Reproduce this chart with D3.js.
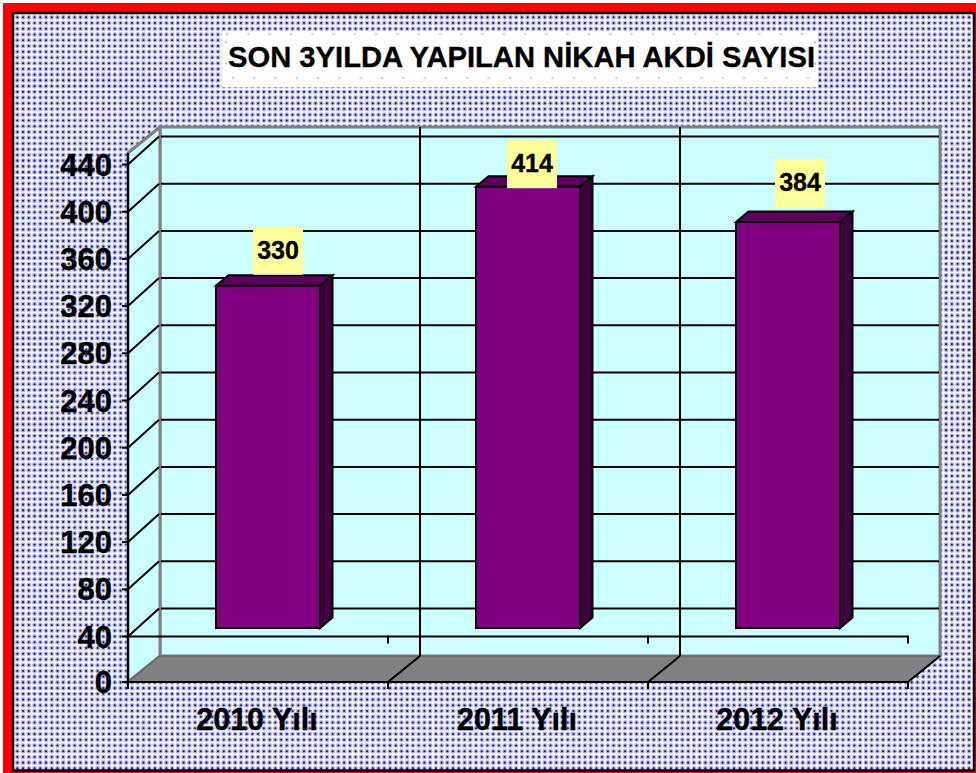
<!DOCTYPE html>
<html><head><meta charset="utf-8">
<style>html,body{margin:0;padding:0;background:#fff}svg{display:block}text{font-family:"Liberation Sans",Arial,sans-serif;font-weight:bold;fill:#000;stroke:#000;stroke-width:.35}</style>
<script src="https://cdnjs.cloudflare.com/ajax/libs/d3/7.8.5/d3.min.js"></script>
</head><body><svg id="c" width="976" height="773"></svg>
<script>
const categories = ["2010 Yılı","2011 Yılı","2012 Yılı"];
const values = [330,414,384];
const yTicks = [0,40,80,120,160,200,240,280,320,360,400,440];
const chartTitle = "SON 3YILDA YAPILAN NİKAH AKDİ SAYISI";
const axisCross = 40;

const svg = d3.select("#c");
const defs = svg.append("defs");
// textured background: tile of dots with a pale seam along its edges
const tile = 86, nDots = 15, step = tile/nDots;
const p = defs.append("pattern").attr("id","dots").attr("patternUnits","userSpaceOnUse")
  .attr("x",3).attr("y",3).attr("width",tile).attr("height",tile);
p.append("rect").attr("width",tile).attr("height",tile).attr("fill","#f3f3fa");
d3.range(nDots).forEach(i=>d3.range(nDots).forEach(j=>{
  const cx=(i+.5)*step, cy=(j+.5)*step;
  p.append("circle").attr("cx",cx).attr("cy",cy).attr("r",2.3).attr("fill","#b0b0dc");
  p.append("circle").attr("cx",cx).attr("cy",cy).attr("r",1.05).attr("fill","#14148a");
}));
p.append("rect").attr("width",tile).attr("height",1).attr("fill","#fff").attr("opacity",.9);
p.append("rect").attr("width",1).attr("height",tile).attr("fill","#fff").attr("opacity",.9);

// frame
svg.append("rect").attr("x",3).attr("y",3).attr("width",973).attr("height",770).attr("fill","#ff0000");
svg.append("rect").attr("x",13).attr("y",13).attr("width",961).attr("height",757.5).attr("fill","url(#dots)").attr("stroke","#000").attr("stroke-width",2.5);

// geometry
const x0 = 128, x1 = 908, floorFront = 682, floorBack = 656, topFront = 153, topBack = 127, depthX = 32, depthY = 28;
const y = d3.scaleLinear().domain([40,440]).range([636.5,164.5]);
const x = d3.scaleBand().domain(categories).range([x0,x1]);

const line = (x1_,y1_,x2_,y2_,c="#000",w=2)=>svg.append("line").attr("x1",x1_).attr("y1",y1_).attr("x2",x2_).attr("y2",y2_).attr("stroke",c).attr("stroke-width",w);
const poly = (pts,f,s,w=2)=>svg.append("polygon").attr("points",pts.map(d=>d.join(",")).join(" ")).attr("fill",f).attr("stroke",s||"none").attr("stroke-width",w).attr("stroke-linejoin","miter");

// walls
const wall="#ccffff", grey="#808080";
poly([[x0+depthX,topBack],[x1+depthX,topBack],[x1+depthX,floorBack],[x0+depthX,floorBack]],wall,grey,3);
poly([[x0,topFront],[x0+depthX,topBack],[x0+depthX,floorBack],[x0,floorFront]],wall,grey,3);
poly([[x0,floorFront],[x0+depthX,floorBack],[x1+depthX,floorBack],[x1,floorFront]],grey,"#666",1.5);

// gridlines on back and left walls
yTicks.forEach(t=>{
  if(t>0){
    line(x0+depthX+1,y(t)-depthY,x1+depthX-1,y(t)-depthY);
    line(x0,y(t),x0+depthX-1,y(t)-depthY);
  }
});
// vertical gridlines on the back wall and floor diagonals
categories.forEach(c=>{
  const xe = x(c)+x.bandwidth();
  if(xe<x1) line(xe+depthX,topBack,xe+depthX,floorBack);
  line(xe,floorFront,xe+depthX,floorBack);
});
// left axis + floor front edge
line(x0,topFront,x0,floorFront+7);
line(x0,floorFront,x1,floorFront);
yTicks.forEach(t=>{const yy=t>0?y(t):floorFront; line(x0-6,yy,x0,yy);});
// category axis crossing at 40
line(x0,y(axisCross),x1,y(axisCross));
categories.forEach(c=>{
  const xe = x(c)+x.bandwidth();
  line(xe,y(axisCross)-1,xe,y(axisCross)+7);
  line(xe,floorFront,xe,floorFront+7);
});

// bars
const barW = 104, offX = 10, offY = 8.5, bDX = 12.5, bDY = 10.5;
const purple="#800080", barTop="#5c005c", barSide="#400040";
categories.forEach((c,i)=>{
  const cx = x(c)+x.bandwidth()/2+offX, l = cx-barW/2, r = cx+barW/2;
  const yt = y(values[i])-offY, yb = y(axisCross)-offY;
  poly([[l,yt],[r,yt],[r+bDX,yt-bDY],[l+bDX,yt-bDY]],barTop,"#000",2);
  poly([[r,yt],[r+bDX,yt-bDY],[r+bDX,yb-bDY],[r,yb]],barSide,"#000",2);
  poly([[l,yt],[r,yt],[r,yb],[l,yb]],purple,"#000",2);
});

// value labels (nudged off the bars as in the source)
const labelNudgeX = [10,4,12], labelLift = [35,22.5,39];
categories.forEach((c,i)=>{
  const cx = x(c)+x.bandwidth()/2+offX+labelNudgeX[i];
  const cy = y(values[i])-offY-labelLift[i];
  svg.append("rect").attr("x",cx-25).attr("y",cy-24).attr("width",50).attr("height",48).attr("fill","#ffff99");
  svg.append("text").attr("x",cx).attr("y",cy+8).attr("text-anchor","middle").attr("font-size",25).text(values[i]);
});

// y tick labels
yTicks.forEach(t=>{
  const yy=t>0?y(t):floorFront;
  svg.append("text").attr("x",112).attr("y",yy+11).attr("text-anchor","end").attr("font-size",31).text(t);
});
// category labels
categories.forEach(c=>{
  svg.append("text").attr("x",x(c)+x.bandwidth()/2-1).attr("y",730).attr("text-anchor","middle").attr("font-size",30.5).text(c);
});
// title
svg.append("rect").attr("x",222).attr("y",31).attr("width",596).attr("height",56).attr("fill","#fff");
svg.append("rect").attr("x",226).attr("y",34).attr("width",589).attr("height",44).attr("fill","none").attr("stroke","#999").attr("stroke-width",1.2).attr("stroke-dasharray","2 19.3");
svg.append("text").attr("x",228).attr("y",67).attr("font-size",30).attr("textLength",587).attr("lengthAdjust","spacingAndGlyphs").text(chartTitle);
</script></body></html>
